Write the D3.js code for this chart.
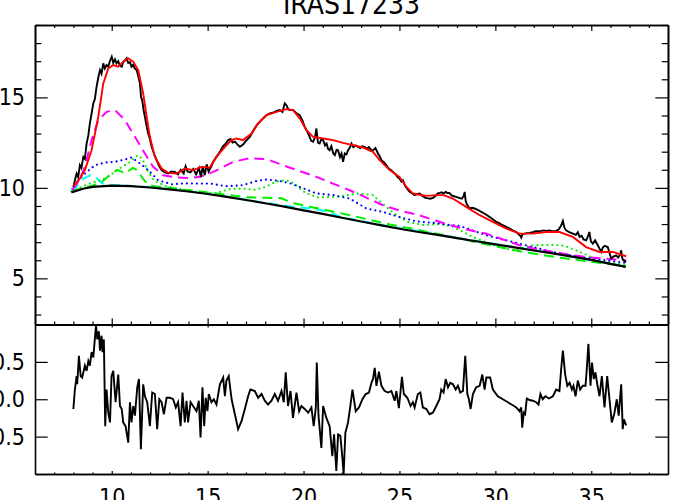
<!DOCTYPE html>
<html>
<head>
<meta charset="utf-8">
<script src="https://cdn.jsdelivr.net/npm/d3@7"></script>
<style>
body { margin:0; background:#fff; }
text { font-family: "Liberation Sans Narrow", "DejaVu Sans Condensed", sans-serif; }
</style>
</head>
<body>
<svg id="drawing_region"></svg>
<script>
// title and axis ticks
const title = "IRAS17233";
const xMajor = [10, 15, 20, 25, 30, 35];
const yMajorTop = [5, 10, 15];
const yMajorRes = [-0.5, 0, 0.5];
const yLabelsRes = ["-0.5", "0.0", "0.5"];

// observed spectrum [wavelength, flux]
const observed = [
 [8.0,10.05],[8.1,10.5],[8.17,10.79],[8.25,10.6],[8.34,11.25],[8.42,11.1],[8.52,11.71],[8.6,11.6],
 [8.69,12.45],[8.78,12.9],[8.86,13.56],[8.95,14.1],[9.04,14.67],[9.12,14.9],[9.21,15.59],[9.3,16.1],
 [9.39,16.51],[9.47,16.3],[9.56,16.88],[9.64,16.6],[9.73,16.79],[9.82,16.7],[9.9,17.0],[10.0,17.25],
 [10.08,16.9],[10.17,17.1],[10.25,16.88],[10.34,17.0],[10.43,16.75],[10.52,16.7],[10.6,16.95],[10.7,17.05],
 [10.78,17.16],[10.86,16.9],[10.95,16.95],[11.03,16.7],[11.12,16.8],[11.2,16.6],[11.3,16.51],[11.38,16.2],
 [11.47,15.77],[11.53,15.0],[11.59,14.85],[11.66,14.3],[11.73,13.93],[11.82,13.4],[11.9,13.0],[11.99,12.7],
 [12.08,12.27],[12.2,11.9],[12.34,11.53],[12.47,11.2],[12.6,10.98],[12.77,10.85],[12.94,10.79],[13.1,10.9],
 [13.29,10.88],[13.45,10.75],[13.6,11.0],[13.75,10.8],[13.85,11.2],[13.95,10.9],[14.1,10.85],[14.25,11.05],
 [14.4,10.75],[14.55,11.1],[14.65,10.6],[14.75,11.2],[14.85,10.7],[14.95,11.3],[15.05,10.9],[15.2,11.2],
 [15.29,11.44],[15.45,11.7],[15.64,12.0],[15.8,12.3],[15.95,12.45],[16.07,12.64],[16.2,12.7],[16.3,12.5],
 [16.42,12.55],[16.55,12.4],[16.68,12.27],[16.85,12.4],[17.0,12.6],[17.2,12.82],[17.4,13.2],[17.55,13.45],
 [17.72,13.65],[17.9,13.85],[18.05,14.0],[18.24,14.11],[18.4,14.15],[18.6,14.25],[18.76,14.3],[18.9,14.2],
 [19.02,14.67],[19.11,14.57],[19.2,14.35],[19.28,14.3],[19.45,14.3],[19.6,14.15],[19.8,14.02],[19.95,13.7],
 [20.06,13.37],[20.2,13.1],[20.32,12.82],[20.4,12.6],[20.5,12.55],[20.6,12.8],[20.67,13.28],[20.75,12.5],
 [20.84,12.45],[20.93,12.7],[21.02,12.64],[21.12,12.35],[21.2,12.45],[21.28,12.15],[21.36,12.08],[21.45,12.3],
 [21.55,11.9],[21.63,11.81],[21.72,12.1],[21.8,12.08],[21.9,11.7],[21.98,11.9],[22.06,11.44],[22.15,11.9],
 [22.24,11.85],[22.32,12.08],[22.4,12.2],[22.5,12.45],[22.6,12.25],[22.7,12.35],[22.84,12.27],[22.95,12.2],
 [23.05,12.3],[23.19,12.27],[23.3,12.15],[23.4,12.25],[23.54,12.08],[23.65,12.1],[23.75,12.2],[23.88,11.9],
 [23.97,11.75],[24.06,11.53],[24.2,11.4],[24.32,11.25],[24.45,11.05],[24.55,11.0],[24.66,10.88],[24.8,10.75],
 [24.9,10.6],[25.0,10.52],[25.1,10.35],[25.18,10.42],[25.3,10.1],[25.4,9.95],[25.53,9.78],[25.65,9.7],
 [25.79,9.6],[25.9,9.65],[26.05,9.69],[26.2,9.55],[26.35,9.45],[26.5,9.42],[26.6,9.4],[26.75,9.45],
 [26.9,9.58],[27.0,9.7],[27.1,9.72],[27.2,9.75],[27.3,9.68],[27.4,9.78],[27.5,9.72],[27.6,9.72],
 [27.7,9.6],[27.8,9.55],[27.95,9.5],[28.1,9.45],[28.25,9.4],[28.35,9.55],[28.4,9.78],[28.45,9.3],
 [28.5,9.13],[28.6,8.95],[28.66,8.86],[28.8,8.9],[28.92,8.86],[29.05,8.8],[29.15,8.75],[29.27,8.67],
 [29.4,8.6],[29.55,8.5],[29.7,8.39],[29.85,8.28],[30.05,8.12],[30.2,8.05],[30.35,7.95],[30.57,7.84],
 [30.75,7.75],[30.9,7.65],[31.09,7.56],[31.2,7.45],[31.3,7.35],[31.35,7.25],[31.42,7.45],[31.52,7.47],
 [31.65,7.5],[31.78,7.51],[31.95,7.55],[32.1,7.6],[32.3,7.6],[32.5,7.65],[32.65,7.62],[32.82,7.65],
 [33.0,7.6],[33.17,7.62],[33.3,7.7],[33.42,7.9],[33.52,8.17],[33.6,7.8],[33.69,7.65],[33.85,7.55],
 [34.04,7.47],[34.2,7.4],[34.3,7.55],[34.39,7.29],[34.5,7.35],[34.6,7.15],[34.73,7.1],[34.82,7.3],
 [34.9,7.56],[34.98,7.05],[35.08,6.92],[35.2,7.1],[35.34,6.83],[35.45,6.6],[35.52,6.46],[35.6,6.7],
 [35.7,6.8],[35.86,6.73],[35.95,6.4],[36.04,6.09],[36.15,6.2],[36.3,6.27],[36.4,6.15],[36.5,6.3],
 [36.56,6.55],[36.62,6.1],[36.68,6.0],[36.82,5.9]
];

// total model fit
const model = [
 [8.0,10.1],[8.3,10.45],[8.6,10.98],[8.95,12.08],[9.3,13.93],[9.56,15.77],[9.82,16.6],[10.08,16.79],
 [10.34,16.7],[10.6,16.97],[10.86,17.16],[11.12,16.97],[11.38,16.51],[11.64,15.22],[11.82,13.93],[11.99,12.82],
 [12.25,11.71],[12.6,11.07],[12.94,10.83],[13.38,10.79],[13.81,11.07],[14.24,10.98],[14.68,11.16],[15.11,11.12],
 [15.46,11.71],[15.9,12.27],[16.24,12.64],[16.5,12.73],[16.85,12.64],[17.29,13.0],[17.63,13.56],[18.07,14.02],
 [18.59,14.2],[19.11,14.35],[19.45,14.3],[19.8,13.84],[20.15,13.19],[20.5,12.82],[21.02,12.73],[21.54,12.64],
 [22.06,12.49],[22.58,12.36],[23.1,12.23],[23.62,11.99],[23.97,11.53],[24.49,10.98],[25.0,10.61],[25.36,10.05],
 [25.7,9.69],[26.05,9.62],[26.4,9.56],[26.92,9.6],[27.3,9.6],[27.78,9.41],[28.48,8.95],[29.18,8.49],
 [29.87,8.12],[30.57,7.75],[31.26,7.47],[31.95,7.47],[32.65,7.56],[33.34,7.56],[34.04,7.29],[34.73,6.73],
 [35.43,6.46],[36.12,6.46],[36.82,6.22]
];

// continuum
const continuum = [
 [7.9,9.75],[8.5,9.95],[9,10.05],[10,10.12],[11,10.1],[12,10.02],[13,9.92],[14,9.8],[15,9.66],[16,9.5],
 [17,9.33],[18,9.15],[19,8.96],[20,8.76],[21,8.56],[22,8.35],[23,8.14],[24,7.94],[25,7.74],[26,7.56],
 [27,7.4],[28,7.22],[29,7.05],[30,6.88],[31,6.71],[32,6.54],[33,6.38],[34,6.2],[35,6.02],[36,5.8],[36.8,5.63]
];

// component: magenta dashed
const compMagenta = [
 [7.95,9.9],[8.3,10.4],[8.6,11.16],[8.95,12.64],[9.3,13.74],[9.73,14.2],[10.17,14.3],[10.69,13.74],
 [11.21,12.82],[11.73,11.9],[12.16,11.16],[12.68,10.7],[13.38,10.57],[14.0,10.55],[14.6,10.61],[15.29,10.88],
 [16.33,11.44],[17.2,11.64],[17.9,11.6],[18.24,11.53],[18.93,11.25],[19.8,10.93],[20.67,10.61],[21.5,10.25],
 [22.4,9.87],[23.3,9.45],[24.14,9.04],[25.0,8.75],[26.0,8.5],[26.8,8.22],[27.6,7.95],[28.5,7.7],[29.53,7.47],
 [30.4,7.15],[31.26,6.83],[32.1,6.62],[33.0,6.46],[33.9,6.3],[34.73,6.18],[35.8,6.08],[36.82,6.0]
];

// component: blue dotted
const compBlue = [
 [7.95,9.95],[8.08,10.24],[8.6,10.79],[9.13,11.25],[9.65,11.4],[10.17,11.44],[10.69,11.57],[11.03,11.68],
 [11.47,11.35],[11.9,10.98],[12.42,10.42],[13.12,10.2],[13.8,10.25],[14.24,10.24],[15.11,10.24],[15.98,10.09],
 [16.85,10.15],[17.55,10.38],[18.07,10.46],[18.76,10.38],[19.3,10.25],[19.8,10.05],[20.67,9.69],[21.54,9.6],
 [22.4,9.41],[23.28,8.86],[24.14,8.67],[25.0,8.39],[25.88,8.15],[26.92,8.05],[27.6,7.95],[28.13,7.9],
 [28.8,7.65],[29.53,7.38],[30.91,7.01],[31.95,6.73],[33.0,6.46],[34.39,6.18],[35.77,6.0],[36.82,5.85]
];

// component: green dotted
const compGreenDot = [
 [7.9,9.8],[8.3,10.0],[9.0,10.3],[9.5,10.45],[9.8,10.6],[10.3,11.0],[10.9,11.4],[11.35,11.8],[11.6,11.6],
 [11.9,10.9],[12.2,10.4],[12.8,10.1],[14.2,9.8],[15.4,9.7],[16.2,9.95],[17.0,9.95],[17.4,9.88],[18.0,10.05],
 [18.6,10.35],[19.1,10.42],[19.5,10.25],[20.1,9.72],[20.7,9.48],[21.7,9.5],[22.9,9.69],[23.6,9.6],[24.1,9.15],
 [24.7,8.6],[25.4,8.12],[26.2,7.95],[27.1,8.0],[27.8,7.85],[28.8,7.3],[29.9,6.83],[30.9,6.55],[32.0,6.83],
 [33.0,6.85],[33.6,6.8],[34.4,6.46],[35.4,6.0],[36.8,5.72]
];

// component: green dashed
const compGreenDash = [
 [7.9,9.8],[8.5,10.0],[9.0,10.12],[9.5,10.35],[10.0,10.8],[10.3,11.0],[10.7,10.8],[11.1,11.1],[11.3,11.0],
 [11.6,10.55],[11.9,10.15],[12.5,10.05],[13,10.0],[14,9.88],[15,9.75],[16,9.62],[17,9.48],[18,9.45],
 [18.8,9.44],[19.5,9.15],[20.5,8.92],[21.5,8.7],[22.5,8.47],[23.5,8.22],[24.5,7.98],[25.5,7.78],[26.5,7.55],
 [27.5,7.35],[28.5,7.12],[29.5,6.88],[30.5,6.66],[31.5,6.45],[32.5,6.28],[33.5,6.12],[34.5,5.98],[35.5,5.85],[36.8,5.68]
];

// component: cyan dashed
const compCyan = [
 [7.9,9.78],[8.2,10.1],[8.5,10.5],[8.9,10.7],[9.2,10.55],[9.5,10.25],[9.9,10.15],[10.5,10.14],[12,10.04],
 [14,9.82],[16,9.52],[18,9.17],[19.5,8.95],[20.5,8.85],[21.2,8.7],[22,8.38],[24,7.96],[27,7.42],[30,6.9],
 [33,6.4],[36.8,5.65]
];

// residuals
const residual = [
 [8.0,-0.13],[8.08,0.13],[8.17,0.31],[8.2,0.2],[8.29,0.58],[8.38,0.31],[8.46,0.29],[8.6,0.45],[8.69,0.38],
 [8.78,0.51],[8.86,0.45],[8.95,0.63],[9.04,0.56],[9.18,0.99],[9.25,0.8],[9.33,0.91],[9.39,0.65],[9.47,0.85],
 [9.52,0.63],[9.59,0.8],[9.66,-0.36],[9.73,0.13],[9.82,-0.18],[9.91,-0.31],[9.99,0.31],[10.08,0.38],[10.2,-0.04],
 [10.34,0.33],[10.43,-0.09],[10.52,-0.13],[10.6,-0.31],[10.72,-0.36],[10.86,-0.58],[10.95,-0.04],[11.03,-0.31],
 [11.12,-0.09],[11.21,-0.22],[11.33,0.16],[11.42,0.27],[11.52,-0.67],[11.64,0.2],[11.73,0.04],[11.85,-0.04],
 [11.99,-0.36],[12.11,0.09],[12.25,0.07],[12.37,-0.4],[12.48,0.0],[12.6,-0.04],[12.72,-0.2],[12.86,0.02],
 [13.03,0.02],[13.2,0.0],[13.34,-0.11],[13.46,-0.04],[13.59,-0.36],[13.69,0.09],[13.81,-0.31],[13.9,-0.02],
 [13.98,-0.31],[14.11,-0.04],[14.24,-0.09],[14.42,-0.16],[14.54,-0.02],[14.63,-0.51],[14.73,0.16],[14.82,-0.36],
 [14.9,0.02],[14.99,-0.16],[15.06,0.07],[15.2,-0.04],[15.32,0.0],[15.46,-0.07],[15.64,0.2],[15.81,0.29],
 [15.9,0.04],[15.98,0.25],[16.1,0.31],[16.25,0.0],[16.42,-0.2],[16.59,-0.4],[16.77,-0.29],[16.94,-0.13],
 [17.11,0.04],[17.23,0.13],[17.46,0.11],[17.63,0.02],[17.81,0.07],[17.98,-0.02],[18.15,-0.07],[18.33,-0.02],
 [18.5,0.07],[18.67,-0.02],[18.85,0.11],[18.97,-0.04],[19.07,0.36],[19.19,-0.09],[19.32,0.11],[19.45,-0.25],
 [19.63,0.09],[19.77,-0.16],[19.89,-0.09],[20.06,-0.13],[20.24,-0.18],[20.41,-0.11],[20.53,-0.36],[20.64,-0.11],
 [20.69,0.49],[20.78,-0.22],[20.93,-0.65],[21.02,-0.09],[21.19,-0.25],[21.36,-0.36],[21.5,-0.76],[21.59,-0.47],
 [21.71,-0.96],[21.8,-0.47],[21.92,-0.49],[22.03,-0.8],[22.09,-1.0],[22.18,-0.45],[22.32,-0.31],[22.44,-0.09],
 [22.55,0.13],[22.72,-0.16],[22.89,-0.11],[23.07,0.0],[23.24,0.07],[23.41,0.09],[23.54,0.22],[23.62,0.27],
 [23.71,0.42],[23.8,0.18],[23.93,0.37],[24.06,0.18],[24.23,0.11],[24.4,0.09],[24.58,0.11],[24.75,-0.02],
 [24.84,0.11],[24.97,-0.12],[25.13,0.3],[25.23,0.07],[25.41,0.02],[25.58,-0.09],[25.7,-0.04],[25.79,-0.11],
 [25.96,0.07],[26.09,0.09],[26.22,-0.11],[26.4,-0.13],[26.57,-0.2],[26.74,-0.18],[26.92,-0.09],[27.09,0.0],
 [27.18,0.13],[27.3,0.09],[27.41,0.27],[27.53,0.16],[27.65,0.22],[27.79,0.2],[27.93,0.13],[28.05,0.18],
 [28.17,0.09],[28.31,0.11],[28.43,0.58],[28.54,0.07],[28.62,0.0],[28.71,-0.13],[28.83,0.07],[29.0,0.16],
 [29.18,0.18],[29.32,0.33],[29.44,0.13],[29.53,0.29],[29.73,0.29],[29.87,0.13],[30.13,0.04],[30.39,0.0],
 [30.65,-0.04],[30.91,-0.08],[31.09,-0.11],[31.26,-0.16],[31.35,-0.11],[31.4,-0.38],[31.48,-0.18],[31.55,-0.2],
 [31.64,0.01],[31.78,-0.01],[31.95,-0.02],[32.13,-0.04],[32.25,-0.07],[32.35,0.07],[32.47,0.0],[32.61,0.04],
 [32.79,0.01],[33.0,0.04],[33.17,0.13],[33.34,0.11],[33.43,0.4],[33.52,0.65],[33.64,0.33],[33.75,0.18],
 [33.87,0.22],[33.99,0.13],[34.07,0.18],[34.18,0.04],[34.3,0.25],[34.42,0.13],[34.56,0.18],[34.7,0.18],
 [34.77,0.42],[34.85,0.74],[34.96,0.18],[35.04,0.49],[35.13,0.27],[35.22,0.36],[35.3,0.22],[35.43,0.04],
 [35.55,0.31],[35.69,-0.11],[35.83,0.31],[35.95,0.0],[36.07,-0.31],[36.21,-0.18],[36.33,0.0],[36.43,-0.22],
 [36.56,0.2],[36.64,-0.4],[36.7,-0.27],[36.82,-0.35]
];

const config = {
    width: 700,
    height: 500,
    left: 35, right: 668,
    topY: 25, midY: 324.5, bottomY: 474
};

const svg = d3.select('#drawing_region')
    .attr('width', config.width)
    .attr('height', config.height);

const xscale = d3.scaleLinear().domain([6, 39]).range([config.left, config.right]);
const yscale = d3.scaleLinear().domain([2.45, 19]).range([config.midY, config.topY]);
const rscale = d3.scaleLinear().domain([-1, 1]).range([config.bottomY, config.midY]);

const xMinor = d3.range(7, 39).filter(v => !xMajor.includes(v));
const yMinorTop = d3.range(3, 20).filter(v => !yMajorTop.includes(v));

// axes helper: draws frame side with inward ticks
function drawAxis(axisFn, scale, values, len, translate, labels, pad) {
    const ax = axisFn(scale).tickValues(values).tickSizeInner(-len).tickSizeOuter(0);
    if (labels) ax.tickFormat((d, i) => labels[i]).tickPadding(pad || 10);
    else ax.tickFormat('');
    const g = svg.append('g').attr('transform', translate).call(ax);
    g.selectAll('.tick line').attr('stroke', '#000').attr('stroke-width', 1.2);
    g.select('.domain').attr('stroke', '#000').attr('stroke-width', 1.6);
    g.selectAll('text').attr('font-size', 23).attr('fill', '#000');
    return g;
}

// top panel
drawAxis(d3.axisTop, xscale, xMajor, 6, `translate(0,${config.topY})`);
drawAxis(d3.axisTop, xscale, xMinor, 3, `translate(0,${config.topY})`);
drawAxis(d3.axisBottom, xscale, xMajor, 6, `translate(0,${config.midY})`);
drawAxis(d3.axisBottom, xscale, xMinor, 3, `translate(0,${config.midY})`);
drawAxis(d3.axisLeft, yscale, yMajorTop, 12.7, `translate(${config.left},0)`, yMajorTop.map(String));
drawAxis(d3.axisLeft, yscale, yMinorTop, 6.3, `translate(${config.left},0)`);
drawAxis(d3.axisRight, yscale, yMajorTop, 12.7, `translate(${config.right},0)`);
drawAxis(d3.axisRight, yscale, yMinorTop, 6.3, `translate(${config.right},0)`);

// bottom panel
drawAxis(d3.axisTop, xscale, xMajor, 3, `translate(0,${config.midY})`);
drawAxis(d3.axisTop, xscale, xMinor, 1.5, `translate(0,${config.midY})`);
drawAxis(d3.axisBottom, xscale, xMajor, 3, `translate(0,${config.bottomY})`, xMajor.map(String), 15);
drawAxis(d3.axisBottom, xscale, xMinor, 1.5, `translate(0,${config.bottomY})`);
drawAxis(d3.axisLeft, rscale, yMajorRes, 12.7, `translate(${config.left},0)`, yLabelsRes);
drawAxis(d3.axisRight, rscale, yMajorRes, 12.7, `translate(${config.right},0)`);

// curves
const line = d3.line().x(d => xscale(d[0])).y(d => yscale(d[1]));
const rline = d3.line().x(d => xscale(d[0])).y(d => rscale(d[1]));

function drawCurve(data, color, width, dash) {
    svg.append('path')
        .datum(data)
        .attr('d', line)
        .attr('fill', 'none')
        .attr('stroke', color)
        .attr('stroke-width', width)
        .attr('stroke-dasharray', dash || null)
        .attr('stroke-linecap', dash && dash.startsWith('0') ? 'round' : 'butt');
}

drawCurve(compCyan, '#00ffff', 2, '10,6');
drawCurve(compGreenDash, '#00ee00', 2, '10,6');
drawCurve(compGreenDot, '#00ee00', 2.2, '0,5');
drawCurve(compBlue, '#0000ff', 2.2, '0,5');
drawCurve(compMagenta, '#ff00ff', 2, '10,6');
drawCurve(continuum, '#000', 2.2);
drawCurve(observed, '#000', 1.9);
drawCurve(model, '#ff0000', 1.9);

svg.append('path')
    .datum(residual)
    .attr('d', rline)
    .attr('fill', 'none')
    .attr('stroke', '#000')
    .attr('stroke-width', 1.9);

svg.append('text')
    .attr('x', (config.left + config.right) / 2)
    .attr('y', 14)
    .attr('text-anchor', 'middle')
    .attr('font-size', 28)
    .text(title);
</script>
</body>
</html>
